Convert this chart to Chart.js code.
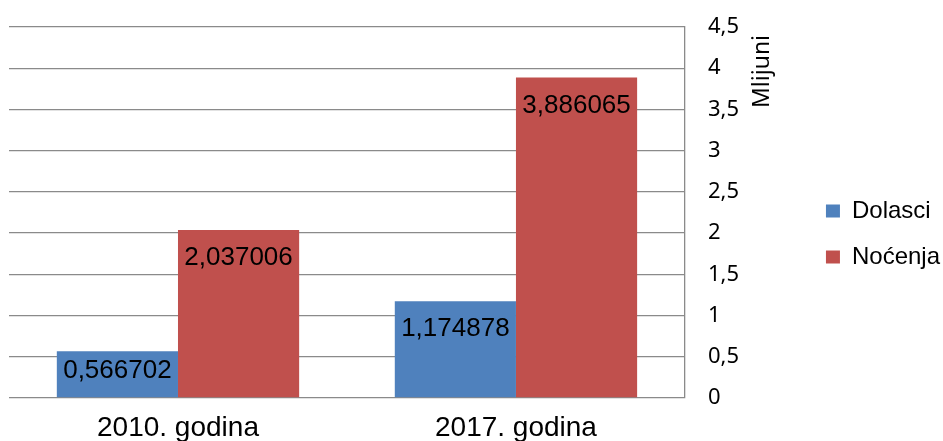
<!DOCTYPE html>
<html>
<head>
<meta charset="utf-8">
<script src="https://cdn.jsdelivr.net/npm/chart.js@4.4.1/dist/chart.umd.min.js"></script>
<style>
  html, body { margin: 0; padding: 0; background: #fff; }
  #wrap { width: 943px; height: 441px; }
</style>
</head>
<body>
<div id="wrap"><canvas id="myChart" width="943" height="441"></canvas></div>
<script>
var years = ["2010. godina", "2017. godina"];
var dolasci = [0.566702, 1.174878];
var nocenja = [2.037006, 3.886065];
var axisTitle = "Mlijuni";

function comma(v, d) {
  return (d == null ? String(v) : v.toFixed(d)).replace('.', ',');
}

// data labels inside the top of each bar (kept inside short bars)
var barLabels = {
  id: 'barLabels',
  afterDatasetsDraw: function(chart) {
    var ctx = chart.ctx;
    ctx.save();
    ctx.font = '26px "Liberation Sans", Arial, sans-serif';
    ctx.fillStyle = '#000';
    ctx.textAlign = 'center';
    ctx.textBaseline = 'middle';
    chart.data.datasets.forEach(function(ds, i) {
      chart.getDatasetMeta(i).data.forEach(function(bar, j) {
        var y = Math.min(bar.y + 28, bar.base - 27);
        ctx.fillText(comma(ds.data[j], 6), bar.x, y);
      });
    });
    ctx.restore();
  }
};

// rotated axis title (reads bottom to top)
var yTitle = {
  id: 'yTitle',
  afterDraw: function(chart) {
    var s = chart.scales.y;
    var ctx = chart.ctx;
    ctx.save();
    ctx.translate(s.left + 78, s.top + 81);
    ctx.rotate(-Math.PI / 2);
    ctx.font = '23px "Noto Sans", sans-serif';
    ctx.fillStyle = '#000';
    ctx.textAlign = 'left';
    ctx.textBaseline = 'middle';
    ctx.fillText(axisTitle, 0, 0);
    ctx.restore();
  }
};

var ctx = document.getElementById('myChart').getContext('2d');
var chart = new Chart(ctx, {
  type: 'bar',
  data: {
    labels: years,
    datasets: [{
      label: "Dolasci",
      backgroundColor: '#4F81BD',
      data: dolasci
    }, {
      label: "Noćenja",
      backgroundColor: '#C0504D',
      data: nocenja
    }]
  },
  options: {
    responsive: false,
    animation: false,
    categoryPercentage: 0.717,
    barPercentage: 1,
    layout: { padding: { top: 27, left: 9, right: -7, bottom: 0 } },
    plugins: {
      tooltip: { enabled: false },
      legend: {
        position: 'right',
        labels: {
          boxWidth: 14,
          boxHeight: 13,
          padding: 22,
          color: '#000',
          font: { family: '"Liberation Sans", Arial, sans-serif', size: 24 }
        }
      }
    },
    scales: {
      x: {
        grid: { display: false },
        border: { display: false },
        ticks: {
          color: '#000',
          padding: 5,
          font: { family: '"Liberation Sans", Arial, sans-serif', size: 28 }
        },
        afterFit: function(s) { s.height = 43; }
      },
      y: {
        position: 'right',
        min: 0,
        max: 4.5,
        grid: { color: '#8a8a8a', lineWidth: 1.3, drawTicks: false },
        border: { display: true, color: '#8a8a8a', width: 1.3 },
        ticks: {
          stepSize: 0.5,
          padding: 23,
          color: '#000',
          font: { family: '"Noto Sans", sans-serif', size: 22 },
          callback: function(v) { return comma(v); }
        },
        afterFit: function(s) {
          s.width = 119;
          s.paddingTop = 13;
          s.paddingBottom = 13;
        }
      }
    }
  },
  plugins: [barLabels, yTitle]
});
</script>
</body>
</html>
